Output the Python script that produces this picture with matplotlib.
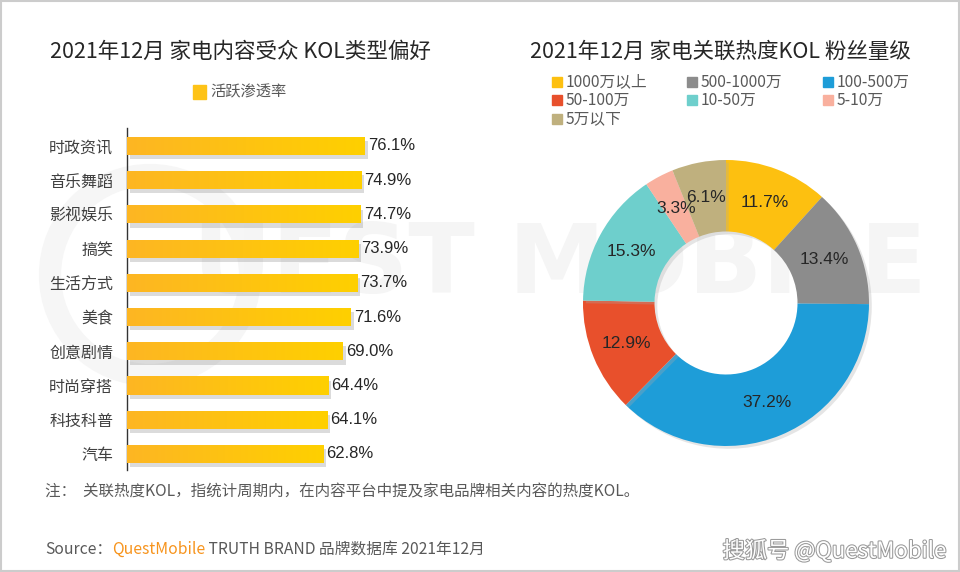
import numpy as np
import matplotlib.pyplot as plt
import matplotlib.patheffects as pe
from matplotlib.colors import LinearSegmentedColormap

plt.rcParams['font.family'] = ['Noto Sans CJK SC', 'DejaVu Sans']

# --- data ---
categories = ['时政资讯', '音乐舞蹈', '影视娱乐', '搞笑', '生活方式', '美食', '创意剧情', '时尚穿搭', '科技科普', '汽车']
active_rate = [76.1, 74.9, 74.7, 73.9, 73.7, 71.6, 69.0, 64.4, 64.1, 62.8]

fan_levels = ['1000万以上', '500-1000万', '100-500万', '50-100万', '10-50万', '5-10万', '5万以下']
fan_share = [11.7, 13.4, 37.2, 12.9, 15.3, 3.3, 6.1]
fan_colors = ['#FDC010', '#8C8C8C', '#1E9DD8', '#E8502C', '#6ECFCC', '#F9B09E', '#BFB07E']

W, H = 960, 572
fig = plt.figure(figsize=(W / 100, H / 100), dpi=100)
fig.patch.set_facecolor('white')


def px(x, y):
    return x / W, 1 - y / H


# faint watermark on a background axes
bg = fig.add_axes([0, 0, 1, 1], zorder=-5)
bg.set_xlim(0, W)
bg.set_ylim(H, 0)
bg.axis('off')
bg.text(560, 266, 'UEST MOBILE', fontsize=70, fontweight='bold', color='#f5f5f5',
        ha='center', va='center', family='DejaVu Sans')
bg.add_patch(plt.Circle((150, 275), 100, fill=False, lw=16, ec='#f6f6f6'))

# ---------------- left: bar chart ----------------
ax = fig.add_axes([127 / W, (H - 470) / H, 312.7 / W, 342 / H])
ax.patch.set_alpha(0)
y = np.arange(len(categories))
bars = ax.barh(y, active_rate, height=0.53, color='#FEC317', zorder=2,
               path_effects=[pe.SimplePatchShadow(offset=(2, -3), shadow_rgbFace='#999999', alpha=0.35),
                             pe.Normal()])
grad = LinearSegmentedColormap.from_list('g', ['#FDB623', '#FFD000'])
for b in bars:
    x0, y0, w, h = b.get_x(), b.get_y(), b.get_width(), b.get_height()
    im = ax.imshow(np.linspace(0, 1, 256).reshape(1, -1), cmap=grad, aspect='auto',
                   extent=[x0, x0 + w, y0 + h, y0], zorder=3)
    im.set_clip_path(b)
for yi, v in zip(y, active_rate):
    ax.text(v + 1.0, yi, f'{v:.1f}%', va='center', ha='left', fontsize=12,
            color='#262626', family='Liberation Sans')
ax.set_xlim(0, 100)
ax.set_ylim(9.47, -0.526)
ax.set_yticks(y)
ax.set_yticklabels(categories, fontsize=11.5, color='#404040')
ax.tick_params(axis='y', length=0, pad=10)
ax.set_xticks([])
for s in ['top', 'right', 'bottom']:
    ax.spines[s].set_visible(False)
ax.spines['left'].set_color('#333333')
ax.spines['left'].set_linewidth(1)

fig.text(*px(240, 52), '2021年12月 家电内容受众 KOL类型偏好', fontsize=15.5, color='#262626',
         ha='center', va='center')
fig.patches.append(plt.Rectangle(px(193, 99), 13 / W, 14 / H, transform=fig.transFigure,
                                 color='#FEC317', zorder=5))
fig.text(*px(210, 92), '活跃渗透率', fontsize=11, color='#595959', ha='left', va='center')

# ---------------- right: donut ----------------
pax = fig.add_axes([(726 - 143) / W, (H - 303 - 143) / H, 286 / W, 286 / H])
wedges, _, autotexts = pax.pie(fan_share, colors=fan_colors, startangle=90, counterclock=False,
                               radius=1, autopct='%.1f%%', pctdistance=0.75,
                               wedgeprops=dict(width=0.5, edgecolor='none'),
                               textprops=dict(fontsize=12.5, color='#262626', family='Liberation Sans'))
for w in wedges:
    w.set_path_effects([pe.SimplePatchShadow(offset=(2, -2), shadow_rgbFace='#aaaaaa', alpha=0.3),
                        pe.Normal()])
pax.set_xlim(-1, 1)
pax.set_ylim(-1, 1)
pax.set_aspect('equal')
pax.axis('off')

fig.text(*px(720, 52), '2021年12月 家电关联热度KOL 粉丝量级', fontsize=15.5, color='#262626',
         ha='center', va='center')
leg_x = [557, 692, 828]
leg_y = [82, 100, 119]
for i, (lab, c) in enumerate(zip(fan_levels, fan_colors)):
    cx, cy = leg_x[i % 3], leg_y[i // 3]
    fig.patches.append(plt.Rectangle(px(cx - 5, cy + 5), 10 / W, 10 / H,
                                     transform=fig.transFigure, color=c))
    fig.text(*px(cx + 9, cy), lab, fontsize=11.3, color='#595959', ha='left', va='center')

# ---------------- footer ----------------
fig.text(*px(45, 492), '注：  关联热度KOL，指统计周期内，在内容平台中提及家电品牌相关内容的热度KOL。',
         fontsize=11.2, color='#595959', ha='left', va='center')
t1 = fig.text(*px(45, 549), 'Source：', fontsize=11.3, color='#595959', ha='left', va='center')
t2 = fig.text(0, 0, 'QuestMobile', fontsize=11.3, color='#F7941D', ha='left', va='center')
t3 = fig.text(0, 0, ' TRUTH BRAND 品牌数据库 2021年12月', fontsize=11.3, color='#595959',
              ha='left', va='center')
fig.canvas.draw()
r = fig.canvas.get_renderer()
bb = t1.get_window_extent(r)
t2.set_position((bb.x1 / W, 1 - 549 / H))
bb = t2.get_window_extent(r)
t3.set_position((bb.x1 / W, 1 - 549 / H))

fig.text(*px(946, 551), '搜狐号 @QuestMobile', fontsize=16, color='white', ha='right', va='center',
         path_effects=[pe.withStroke(linewidth=1.5, foreground='#9a9a9a')])

# outer frame
fig.patches.append(plt.Rectangle((0.001, 0.001), 0.998, 0.997, transform=fig.transFigure,
                                 fill=False, ec='#cccccc', lw=1.5))

fig.savefig('out.png', dpi=100)
